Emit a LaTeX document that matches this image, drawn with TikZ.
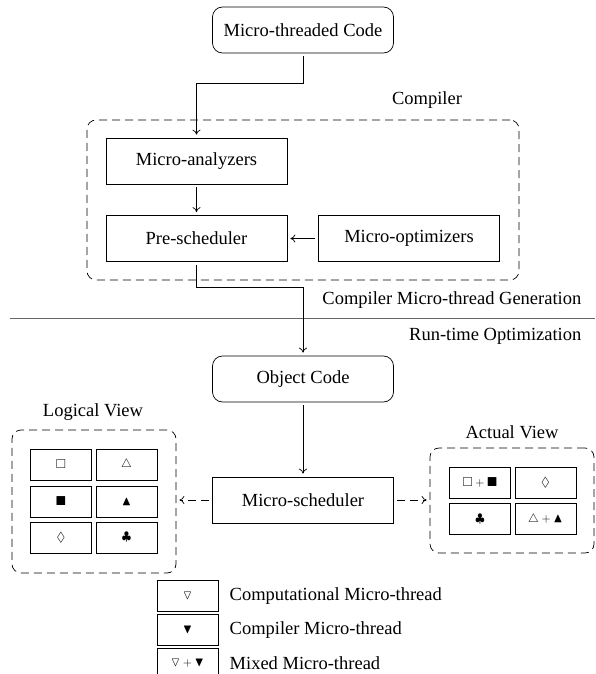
\documentclass[tikz,border=0pt]{standalone}
\usepackage{amsmath}
\usepackage{amssymb}
\usepackage{fontspec}
\setmainfont{Liberation Serif}
\usepackage{tikz}
\usetikzlibrary{arrows.meta}

\tikzset{
    >={To[length=5pt, width=8pt]},
    box/.style={draw, minimum width=181, minimum height=46, inner sep=0},
    rbox/.style={box, rounded corners=10},
    cell/.style={draw, minimum width=61, minimum height=31, inner sep=0, font=\fontsize{13}{15}\selectfont},
    frame/.style={draw, dash pattern=on 8pt off 5pt, rounded corners=9, inner sep=0},
    flow/.style={->, shorten >=3pt, shorten <=3pt},
    dflow/.style={->, dash pattern=on 8pt off 5pt, shorten >=3pt, shorten <=3pt}
}

\begin{document}
\begin{tikzpicture}[x=1pt, y=-1pt, line width=0.7pt, font=\fontsize{18.5}{22}\selectfont]
            \useasboundingbox (0,0) rectangle (595,674);

            % compiler part
            \node[rbox] (code) at (303,30) {Micro-threaded Code};
            \node[frame, minimum width=432, minimum height=160] (compbox) at (303,200) {};
            \node (complabel) at (427,100) {Compiler};
            \node[box] (ana) at (196.5,161) {Micro-analyzers};
            \node[box] (pre) at (196.5,238.5) {Pre-scheduler};
            \node[box] (opt) at (409,238.5) {Micro-optimizers};

            \draw[flow] (code.south) -- ++(0,30) -| (ana.north);
            \draw[flow] (ana) -- (pre);
            \draw[flow] (opt) -- (pre);

            % separation of the two phases
            \coordinate (sepl) at (10,318);
            \coordinate (sepr) at (595,318);
            \draw[gray!80!black] (sepl) -- (sepr);
            \node[anchor=east] (genlabel) at (585,300) {Compiler Micro-thread Generation};
            \node[anchor=east] (runlabel) at (585,336) {Run-time Optimization};

            % run-time part
            \node[rbox] (obj) at (303,379) {Object Code};
            \node[box] (sched) at (303,500) {Micro-scheduler};
            \draw[flow] (pre.south) -- ++(0,25) -| (obj.north);
            \draw[flow] (obj) -- (sched);

            % logical view
            \node (loglabel) at (93,412) {Logical View};
            \node[frame, minimum width=164, minimum height=143] (logframe) at (94,501.5) {};
            \node[cell] (l11) at (61,464.5) {$\square$};
            \node[cell] (l12) at (126.5,464.5) {$\triangle$};
            \node[cell] (l21) at (61,501.5) {$\blacksquare$};
            \node[cell] (l22) at (126.5,501.5) {$\blacktriangle$};
            \node[cell] (l31) at (61,537.5) {$\Diamond$};
            \node[cell] (l32) at (126.5,537.5) {$\clubsuit$};

            % actual view
            \node (actlabel) at (512,432) {Actual View};
            \node[frame, minimum width=164, minimum height=105] (actframe) at (512,500.5) {};
            \node[cell] (a11) at (480,482.5) {$\square+\blacksquare$};
            \node[cell] (a12) at (545.5,482.5) {$\Diamond$};
            \node[cell] (a21) at (480,519) {$\clubsuit$};
            \node[cell] (a22) at (545.5,519) {$\triangle+\blacktriangle$};

            \draw[dflow] (sched.west) -- (sched.west -| logframe.east);
            \draw[dflow] (sched.east) -- (sched.east -| actframe.west);

            % legend
            \node[cell] (k1) at (187.5,596) {$\triangledown$};
            \node[anchor=west] (t1) at (226,596) {Computational Micro-thread};
            \node[cell] (k2) at (187.5,630) {$\blacktriangledown$};
            \node[anchor=west] (t2) at (226,630) {Compiler Micro-thread};
            \node[cell] (k3) at (187.5,663.5) {$\triangledown+\blacktriangledown$};
            \node[anchor=west] (t3) at (226,663.5) {Mixed Micro-thread};
        \end{tikzpicture}
\end{document}
